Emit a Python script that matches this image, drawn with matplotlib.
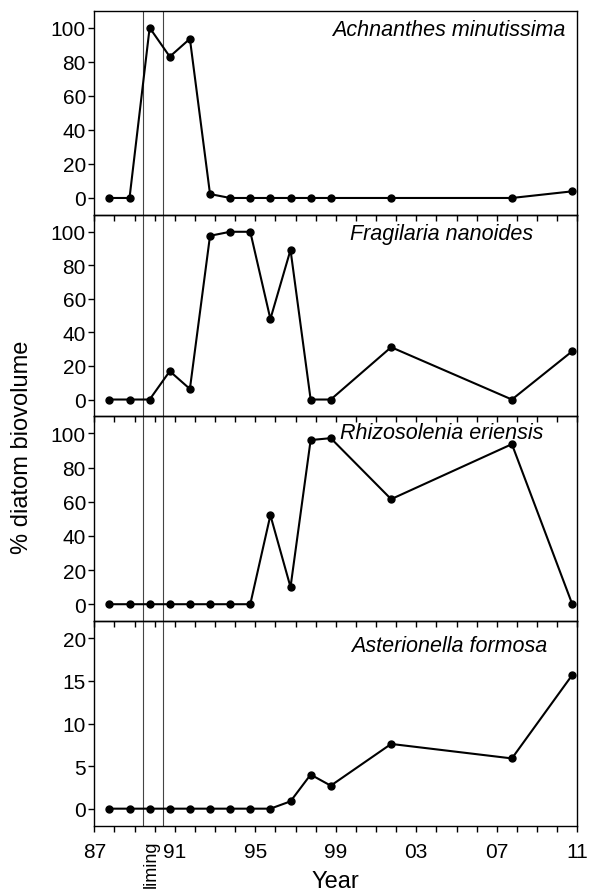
import matplotlib.pyplot as plt
from matplotlib.ticker import FixedLocator, MultipleLocator

plt.rcParams["font.family"] = ["Liberation Sans", "DejaVu Sans"]

# sampling dates (years since 1900, late in the year)
years = [87.75, 88.75, 89.75, 90.75, 91.75, 92.75, 93.75, 94.75, 95.75,
         96.75, 97.75, 98.75, 101.75, 107.75, 110.75]

achnanthes = [0, 0, 100, 83, 93.5, 2.3, 0, 0, 0, 0, 0, 0, 0, 0, 3.9]
fragilaria = [0, 0, 0, 16.9, 6.3, 97.6, 100, 100, 48, 89.2, 0, 0, 31.2, 0, 28.8]
rhizosolenia = [0, 0, 0, 0, 0, 0, 0, 0, 52.1, 10, 96.1, 97.2, 61.5, 93.7, 0]
asterionella = [0, 0, 0, 0, 0, 0, 0, 0, 0, 0.86, 4.0, 2.7, 7.6, 5.9, 15.7]

species = ["Achnanthes minutissima", "Fragilaria nanoides",
           "Rhizosolenia eriensis", "Asterionella formosa"]
series = [achnanthes, fragilaria, rhizosolenia, asterionella]

liming = [89.4, 90.4]
xticks = [87, 91, 95, 99, 103, 107, 111]
xticklabels = ["87", "91", "95", "99", "03", "07", "11"]

fig = plt.figure(figsize=(5.94, 8.95), dpi=100)

left, right = 94.3 / 594, 577.3 / 594
edges = [11.7, 216, 417.3, 622.3, 826.7]  # panel edges in pixels from top
label_pos = [(0.9745, 0.910), (0.9077, 0.906), (0.929, 0.923), (0.937, 0.884)]

axes = []
for i in range(4):
    top = 1 - edges[i] / 895
    bot = 1 - edges[i + 1] / 895
    ax = fig.add_axes([left, bot, right - left, top - bot])
    ax.patch.set_visible(False)
    axes.append(ax)

    for x in liming:
        ax.axvline(x, color="#444444", lw=0.8, zorder=1)
    ax.plot(years, series[i], color="black", lw=1.5, marker="o",
            markersize=5, zorder=3)

    ax.set_xlim(87, 111)
    if i < 3:
        ax.set_ylim(-10, 110)
        ax.set_yticks([0, 20, 40, 60, 80, 100])
    else:
        ax.set_ylim(-2, 22)
        ax.set_yticks([0, 5, 10, 15, 20])

    ax.xaxis.set_major_locator(FixedLocator(xticks))
    ax.xaxis.set_minor_locator(MultipleLocator(1))
    ax.tick_params(axis="x", which="both", direction="out", length=4.5,
                   width=1, pad=7, labelsize=15)
    ax.tick_params(axis="y", direction="out", length=4.5, width=1, pad=1.5,
                   labelsize=15)
    if i < 3:
        ax.set_xticklabels([])
    else:
        ax.set_xticklabels(xticklabels)

    for sp in ax.spines.values():
        sp.set_linewidth(1.0)

    lx, ly = label_pos[i]
    ax.text(lx, ly, species[i], transform=ax.transAxes, ha="right",
            va="center", fontsize=15.5, style="italic")

axes[3].text(89.85, -3.6, "liming", rotation=90, ha="center", va="top",
             fontsize=13)
axes[3].set_xlabel("Year", fontsize=17, labelpad=7)
fig.text(0.037, 0.5, "% diatom biovolume", rotation=90, ha="center",
         va="center", fontsize=17)

fig.savefig("out.png", dpi=100)
